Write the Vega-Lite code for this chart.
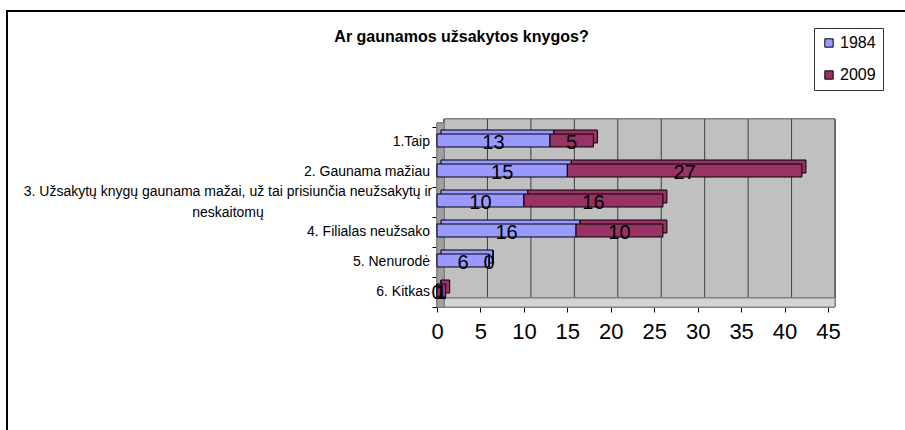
{
  "$schema": "https://vega.github.io/schema/vega-lite/v6.json",
  "width": 391,
  "height": 180,
  "autosize": {"type": "none"},
  "padding": {"left": 437, "top": 127, "right": 77, "bottom": 123},
  "background": "white",
  "config": {
    "font": "Liberation Sans",
    "view": {"stroke": null},
    "axis": {"domainColor": "#000", "tickColor": "#000", "labelColor": "#000", "grid": false, "title": null}
  },
  "title": {
    "text": "Ar gaunamos užsakytos knygos?",
    "fontSize": 16,
    "fontWeight": "bold",
    "font": "Liberation Sans",
    "color": "#000",
    "anchor": "middle",
    "frame": "group",
    "dx": -171,
    "offset": 0,
    "dy": 35
  },
  "datasets": {
    "answers": [
      {"category": "1.Taip", "year": "1984", "value": 13},
      {"category": "1.Taip", "year": "2009", "value": 5},
      {"category": "2. Gaunama mažiau", "year": "1984", "value": 15},
      {"category": "2. Gaunama mažiau", "year": "2009", "value": 27},
      {"category": "3. Užsakytų knygų gaunama mažai, už tai prisiunčia neužsakytų ir neskaitomų", "year": "1984", "value": 10},
      {"category": "3. Užsakytų knygų gaunama mažai, už tai prisiunčia neužsakytų ir neskaitomų", "year": "2009", "value": 16},
      {"category": "4. Filialas neužsako", "year": "1984", "value": 16},
      {"category": "4. Filialas neužsako", "year": "2009", "value": 10},
      {"category": "5. Nenurodė", "year": "1984", "value": 6},
      {"category": "5. Nenurodė", "year": "2009", "value": 0},
      {"category": "6. Kitkas", "year": "1984", "value": 0},
      {"category": "6. Kitkas", "year": "2009", "value": 1}
    ],
    "gridlines": [
      {"v": 0}, {"v": 5}, {"v": 10}, {"v": 15}, {"v": 20},
      {"v": 25}, {"v": 30}, {"v": 35}, {"v": 40}, {"v": 45}
    ]
  },
  "data": {"name": "answers"},
  "layer": [
    {
      "mark": {"type": "rect", "fill": "#C0C0C0", "stroke": "#808080", "strokeWidth": 1, "xOffset": 7, "x2Offset": 7, "yOffset": -8},
      "encoding": {
        "x": {"datum": 0, "type": "quantitative", "scale": {"domain": [0, 45], "nice": false, "zero": false}},
        "x2": {"datum": 45}
      }
    },
    {
      "data": {"name": "gridlines"},
      "mark": {"type": "rule", "color": "#404040", "strokeWidth": 1, "xOffset": 7, "yOffset": -8},
      "encoding": {
        "x": {"field": "v", "type": "quantitative", "scale": {"domain": [0, 45], "nice": false, "zero": false}}
      }
    },
    {
      "mark": {"type": "rect", "fill": "#D4D4D4", "stroke": "#808080", "strokeWidth": 1, "x2Offset": 7, "yOffset": 171},
      "encoding": {
        "x": {"datum": 0, "type": "quantitative", "scale": {"domain": [0, 45], "nice": false, "zero": false}},
        "x2": {"datum": 45}
      }
    },
    {
      "mark": {"type": "rect", "fill": "#A0A0A0", "stroke": "#808080", "strokeWidth": 1, "x2Offset": 7, "yOffset": -4},
      "encoding": {
        "x": {"datum": 0, "type": "quantitative", "scale": {"domain": [0, 45], "nice": false, "zero": false}},
        "x2": {"datum": 0}
      }
    },
    {
      "mark": {"type": "bar", "size": 13, "stroke": "#000", "strokeWidth": 1, "xOffset": 4, "x2Offset": 4, "yOffset": -5.5, "opacity": 1},
      "encoding": {
        "y": {
          "field": "category", "type": "nominal", "sort": null,
          "scale": {"paddingInner": 0, "paddingOuter": 0},
          "axis": {
            "orient": "left",
            "tickSize": 5,
            "tickBand": "extent",
            "labels": false
          }
        },
        "x": {
          "field": "value", "type": "quantitative", "stack": "zero",
          "scale": {"domain": [0, 45], "nice": false, "zero": false},
          "axis": {"values": [0, 5, 10, 15, 20, 25, 30, 35, 40, 45], "tickSize": 5, "labelFontSize": 22, "labelPadding": 9, "labelFlush": false}
        },
        "color": {
          "field": "year", "type": "nominal",
          "scale": {"domain": ["1984", "2009"], "range": ["#9999FF", "#993366"]},
          "legend": {
            "orient": "none",
            "legendX": 377,
            "legendY": -99,
            "title": null,
            "symbolType": "square",
            "symbolSize": 70,
            "symbolStrokeColor": "#000",
            "symbolStrokeWidth": 1,
            "symbolOpacity": 1,
            "labelFontSize": 16,
            "labelColor": "#000",
            "strokeColor": "#333",
            "fillColor": "white",
            "padding": 7,
            "rowPadding": 16,
            "labelOffset": 3
          }
        },
        "order": {"field": "year"}
      }
    },
    {
      "mark": {"type": "bar", "size": 13, "stroke": "#000", "strokeWidth": 1, "yOffset": -1.5, "opacity": 1},
      "encoding": {
        "y": {"field": "category", "type": "nominal", "sort": null, "scale": {"paddingInner": 0, "paddingOuter": 0}},
        "x": {"field": "value", "type": "quantitative", "stack": "zero", "scale": {"domain": [0, 45], "nice": false, "zero": false}},
        "color": {"field": "year", "type": "nominal", "scale": {"domain": ["1984", "2009"], "range": ["#9999FF", "#993366"]}},
        "order": {"field": "year"}
      }
    },
    {
      "transform": [
        {"stack": "value", "groupby": ["category"], "sort": [{"field": "year"}], "as": ["v0", "v1"]},
        {"calculate": "(datum.v0 + datum.v1) / 2", "as": "mid"}
      ],
      "mark": {"type": "text", "fontSize": 20, "color": "#000", "baseline": "middle", "yOffset": 1},
      "encoding": {
        "y": {"field": "category", "type": "nominal", "sort": null, "scale": {"paddingInner": 0, "paddingOuter": 0}},
        "x": {"field": "mid", "type": "quantitative", "scale": {"domain": [0, 45], "nice": false, "zero": false}},
        "text": {"field": "value", "type": "quantitative"}
      }
    },
    {
      "transform": [
        {"filter": "datum.year === '1984' && indexof(datum.category, '3.') !== 0"}
      ],
      "mark": {"type": "text", "fontSize": 14, "color": "#000", "align": "right", "baseline": "middle", "xOffset": -7, "clip": false},
      "encoding": {
        "y": {"field": "category", "type": "nominal", "sort": null, "scale": {"paddingInner": 0, "paddingOuter": 0}},
        "x": {"datum": 0, "type": "quantitative", "scale": {"domain": [0, 45], "nice": false, "zero": false}},
        "text": {"field": "category", "type": "nominal"}
      }
    },
    {
      "transform": [
        {"filter": "datum.year === '1984' && indexof(datum.category, '3.') === 0"},
        {"calculate": "[substring(datum.category, 0, lastindexof(datum.category, ' ')), substring(datum.category, lastindexof(datum.category, ' ') + 1)]", "as": "lines"}
      ],
      "mark": {"type": "text", "fontSize": 14, "color": "#000", "align": "center", "baseline": "middle", "lineHeight": 21, "xOffset": -209, "yOffset": -10, "clip": false},
      "encoding": {
        "y": {"field": "category", "type": "nominal", "sort": null, "scale": {"paddingInner": 0, "paddingOuter": 0}},
        "x": {"datum": 0, "type": "quantitative", "scale": {"domain": [0, 45], "nice": false, "zero": false}},
        "text": {"field": "lines"}
      }
    },
    {
      "mark": {"type": "rect", "fill": null, "stroke": "#000", "strokeWidth": 1.5, "height": 600, "yOffset": 169, "clip": false},
      "encoding": {
        "y": {"datum": "1.Taip", "type": "nominal"},
        "x": {"datum": -49.5, "type": "quantitative", "scale": {"domain": [0, 45], "nice": false, "zero": false}},
        "x2": {"datum": 60}
      }
    }
  ]
}
